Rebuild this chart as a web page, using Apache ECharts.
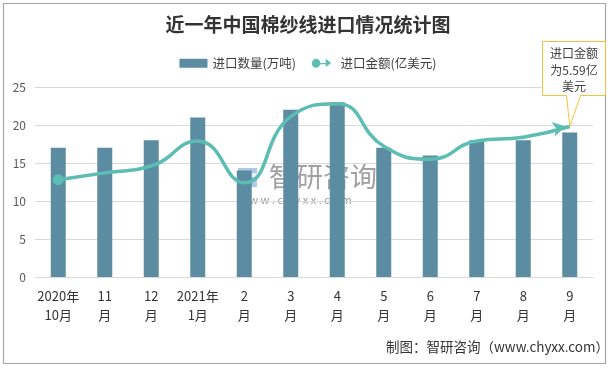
<!DOCTYPE html>
<html><head><meta charset="utf-8">
<script src="https://cdn.jsdelivr.net/npm/echarts@6/dist/echarts.min.js"></script>
<style>html,body{margin:0;padding:0;background:#fff}#c{width:616px;height:369px}</style>
</head><body><div id="c"></div>
<script>
const categories = ['2020年\n10月','11\n月','12\n月','2021年\n1月','2\n月','3\n月','4\n月','5\n月','6\n月','7\n月','8\n月','9\n月'];
const quantity = [17, 17, 18, 21, 14, 22, 23, 17, 16, 18, 18, 19];
const amount = [12.8, 13.7, 14.6, 17.9, 12.4, 21.1, 22.8, 17.2, 15.5, 17.9, 18.4, 19.8];
const yTicks = [0, 5, 10, 15, 20, 25];
const calloutText = '进口金额\n为5.59亿\n美元';

const chart = echarts.init(document.getElementById('c'), null, {renderer: 'canvas'});
const font = '"Noto Sans CJK SC", "Microsoft YaHei", sans-serif';
const lineColor = '#5cbdb3';
const barColor = '#5b8ca2';

const lineData = amount.map((v, i) => {
  if (i === 0) return {value: v, symbol: 'circle', symbolSize: 11};
  if (i === amount.length - 1) return {value: v, symbol: 'arrow', symbolSize: [11, 13], symbolRotate: -78, symbolOffset: [-4, 0]};
  return {value: v, symbol: 'none'};
});

function buildGraphics(p) {
  const g = [
    {type: 'rect', shape: {x: 3.5, y: 3.5, width: 602, height: 360}, style: {fill: 'none', stroke: '#a6a6a6', lineWidth: 1.2}, silent: true, z: 0},
    {type: 'text', x: 386, y: 340, style: {text: '制图：智研咨询（www.chyxx.com）', fontSize: 13.5, fill: '#333', fontFamily: '"Noto Sans CJK SC", "DejaVu Sans Mono", monospace'}, z: 5},
    {type: 'group', x: 238, y: 163, z: 5, silent: true, children: [
      {type: 'rect', shape: {x: 0, y: 5, width: 19, height: 19}, style: {fill: 'rgba(110,155,210,0.55)'}},
      {type: 'rect', shape: {x: 5, y: 10, width: 14, height: 4}, style: {fill: 'rgba(255,255,255,0.75)'}},
      {type: 'text', x: 31, y: 0, style: {text: '智研咨询', fontSize: 27, fill: 'rgba(130,130,130,0.75)', fontFamily: font}},
      {type: 'text', x: 0, y: 31, style: {text: 'w w w . c h y x x . c o m', fontSize: 11, fill: 'rgba(130,130,130,0.8)', fontFamily: font}}
    ]}
  ];
  if (p) {
    const bx = Math.round(p[0] - 28) + 0.5, by = 41.5, bw = 63, bh = 54;
    g.push({type: 'polygon', z: 10, shape: {points: [
      [bx, by], [bx + bw, by], [bx + bw, by + bh], [bx + 38, by + bh], [p[0], p[1]], [bx + 24, by + bh], [bx, by + bh]
    ]}, style: {fill: '#fff', stroke: '#f5c140', lineWidth: 1}});
    g.push({type: 'text', z: 11, x: bx + bw / 2, y: by + 4, style: {text: calloutText, fontSize: 12, lineHeight: 16.5, fill: '#404040', align: 'center', fontFamily: font}});
  }
  return g;
}

function buildOption(p) {
  return {
    animation: false,
    textStyle: {fontFamily: font},
    title: {
      text: '近一年中国棉纱线进口情况统计图',
      left: 'center', top: 10,
      textStyle: {fontSize: 19, fontWeight: 'bold', color: '#333', fontFamily: font}
    },
    legend: {
      top: 52, left: 'center', itemGap: 16, itemWidth: 28, itemHeight: 9,
      textStyle: {fontSize: 12.5, color: '#404040', fontFamily: font},
      data: [
        {name: '进口数量(万吨)', icon: 'rect'},
        {name: '进口金额(亿美元)', icon: 'path://M0,6 A6,6 0 1 1 12,6 L20,6 L20,0 L28,6 L20,12 L20,8 L12,8 A6,6 0 1 1 0,6 Z', itemStyle: {color: lineColor}}
      ]
    },
    grid: {left: 35, right: 23, top: 87, bottom: 92},
    xAxis: {
      type: 'category', data: categories,
      axisLine: {lineStyle: {color: '#d9d9d9'}},
      axisTick: {show: false},
      axisLabel: {color: '#333', fontSize: 13, lineHeight: 19, margin: 10, interval: 0, fontFamily: font}
    },
    yAxis: {
      type: 'value', min: yTicks[0], max: yTicks[yTicks.length - 1], interval: 5,
      axisLine: {show: false}, axisTick: {show: false},
      splitLine: {lineStyle: {color: '#d9d9d9'}},
      axisLabel: {color: '#595959', fontSize: 12, margin: 9, fontFamily: font}
    },
    series: [
      {name: '进口数量(万吨)', type: 'bar', data: quantity, barWidth: 15, itemStyle: {color: barColor}, z: 2},
      {name: '进口金额(亿美元)', type: 'line', data: lineData, smooth: 0.5,
        lineStyle: {color: lineColor, width: 3.5}, itemStyle: {color: lineColor}, showSymbol: true, z: 3}
    ],
    graphic: buildGraphics(p)
  };
}

chart.setOption(buildOption(null));
const last = amount.length - 1;
const p = chart.convertToPixel({xAxisIndex: 0, yAxisIndex: 0}, [last, amount[last]]);
chart.setOption(buildOption(p), true);
</script></body></html>
